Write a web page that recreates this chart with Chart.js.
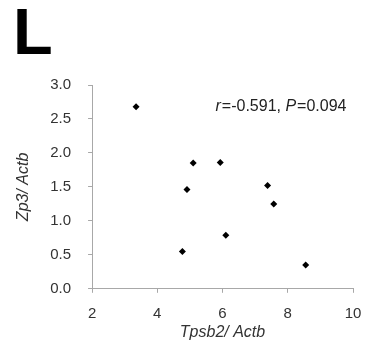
<!DOCTYPE html>
<html>
<head>
<meta charset="utf-8">
<script src="https://cdn.jsdelivr.net/npm/chart.js@4"></script>
<style>
  body { margin: 0; background: #fff; }
  #wrap { position: relative; width: 371px; height: 347px; }
  #panel { position: absolute; left: 13px; top: -1px; font: bold 65px "Liberation Sans", Arial, sans-serif; line-height: 1; color: #000; }
  canvas { position: absolute; left: 0; top: 0; }
</style>
</head>
<body>
<div id="wrap">
  <canvas id="chart" width="371" height="347"></canvas>
  <div id="panel">L</div>
</div>
<script>
// Tpsb2/Actb vs Zp3/Actb
const tpsb2 = [3.35, 5.1, 5.93, 4.91, 7.38, 7.57, 6.1, 4.77, 8.55];
const zp3 = [2.68, 1.85, 1.86, 1.46, 1.52, 1.25, 0.79, 0.55, 0.35];
const xTicks = [2, 4, 6, 8, 10];
const yTicks = [0, 0.5, 1, 1.5, 2, 2.5, 3];
const stats = { r: '-0.591', p: '0.094' };

const fontName = '"Liberation Sans", Arial, sans-serif';
const textColor = '#333';
const axisColor = '#a8a8a8';

// r / P text in the top right corner
const statsLabel = {
    id: 'statsLabel',
    afterDatasetsDraw(chart) {
        const ctx = chart.ctx;
        const x = chart.scales.x.getPixelForValue(9.8);
        const y = chart.scales.y.getPixelForValue(2.68);
        const parts = [
            ['r', true], ['=' + stats.r + ', ', false],
            ['P', true], ['=' + stats.p, false]
        ];
        ctx.save();
        ctx.fillStyle = '#222';
        ctx.textBaseline = 'middle';
        ctx.textAlign = 'left';
        let total = 0;
        parts.forEach(p => {
            ctx.font = (p[1] ? 'italic ' : '') + '16px ' + fontName;
            total += ctx.measureText(p[0]).width + (p[1] ? 1 : 0);
        });
        let cx = x - total;
        parts.forEach(p => {
            ctx.font = (p[1] ? 'italic ' : '') + '16px ' + fontName;
            ctx.fillText(p[0], cx, y);
            cx += ctx.measureText(p[0]).width + (p[1] ? 1 : 0);
        });
        ctx.restore();
    }
};

new Chart(document.getElementById('chart').getContext('2d'), {
    type: 'scatter',
    data: {
        datasets: [{
            data: tpsb2.map((v, i) => ({ x: v, y: zp3[i] })),
            pointStyle: 'rectRot',
            radius: 3.5,
            backgroundColor: '#000',
            borderColor: '#000',
            borderWidth: 0
        }]
    },
    options: {
        responsive: false,
        animation: false,
        layout: { padding: { left: 14, top: 85, right: 4, bottom: 5 } },
        plugins: { legend: { display: false }, tooltip: { enabled: false } },
        scales: {
            x: {
                min: 2, max: 10,
                afterBuildTicks: s => { s.ticks = xTicks.map(v => ({ value: v })); },
                afterFit: s => { s.paddingRight = 18; },
                grid: { drawOnChartArea: false, color: axisColor, tickLength: 4 },
                border: { color: axisColor },
                ticks: { color: textColor, font: { family: fontName, size: 15 }, padding: 12 },
                title: {
                    display: true, text: 'Tpsb2/ Actb', color: textColor,
                    font: { family: fontName, size: 16, style: 'italic' }, padding: { top: -12, bottom: 0 }
                }
            },
            y: {
                min: 0, max: 3,
                afterBuildTicks: s => { s.ticks = yTicks.map(v => ({ value: v })); },
                grid: { drawOnChartArea: false, color: axisColor, tickLength: 4 },
                border: { color: axisColor },
                ticks: { color: textColor, font: { family: fontName, size: 15 }, padding: 17,
                    callback: v => v.toFixed(1) },
                title: {
                    display: true, text: 'Zp3/ Actb', color: textColor,
                    font: { family: fontName, size: 16, style: 'italic' }, padding: { top: 0, bottom: 0 }
                }
            }
        }
    },
    plugins: [statsLabel]
});
</script>
</body>
</html>
